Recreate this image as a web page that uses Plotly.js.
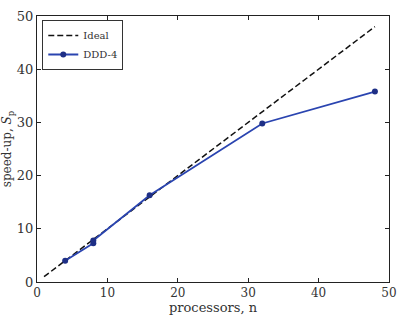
<!DOCTYPE html>
<html><head><meta charset="utf-8">
<script src="https://cdn.plot.ly/plotly-3.0.1.min.js"></script>
<style>body{margin:0;padding:0;background:#fff}#c{width:397px;height:318px}</style>
</head><body><div id="c"></div>
<script>
const idealX = [1, 48];
const idealY = [1, 48];
const dddX = [4, 8, 8, 16, 32, 48];
const dddY = [4.0, 7.3, 7.8, 16.3, 29.8, 35.8];
const xTicks = [0, 10, 20, 30, 40, 50];
const yTicks = [0, 10, 20, 30, 40, 50];

const fontF = '"DejaVu Serif", serif';
const traces = [
  {x: idealX, y: idealY, mode: 'lines', name: 'Ideal',
   line: {color: '#111', width: 1.5, dash: '6px,3px'}},
  {x: dddX, y: dddY, mode: 'lines+markers', name: 'DDD-4',
   line: {color: '#2a44b0', width: 1.8},
   marker: {color: '#1e2f86', size: 6}}
];
const axisCommon = {
  showgrid: false, zeroline: false, showline: true, mirror: 'ticks',
  linecolor: '#222', linewidth: 1, ticks: 'inside', ticklen: 4, tickcolor: '#222'
};
const layout = {
  width: 397, height: 318,
  margin: {l: 37, r: 8, t: 16, b: 36},
  paper_bgcolor: '#fff', plot_bgcolor: '#fff',
  showlegend: true,
  legend: {x: 0.015, y: 0.985, xanchor: 'left', yanchor: 'top',
    bgcolor: '#fff', bordercolor: '#333', borderwidth: 1,
    font: {family: fontF, size: 10, color: '#333'},
    tracegroupgap: 0, itemwidth: 30},
  xaxis: Object.assign({}, axisCommon, {range: [0, 50], tickvals: xTicks,
    tickfont: {family: fontF, size: 12, color: '#333'},
    title: {text: 'processors, n', font: {family: fontF, size: 13, color: '#333'}, standoff: 1}}),
  yaxis: Object.assign({}, axisCommon, {range: [0, 50], tickvals: yTicks,
    tickfont: {family: fontF, size: 13, color: '#333'},
    title: {text: 'speed-up, <i>S</i><sub>p</sub>', font: {family: fontF, size: 12, color: '#333'}, standoff: 5}})
};
Plotly.newPlot('c', traces, layout, {displayModeBar: false, staticPlot: true});
</script></body></html>
